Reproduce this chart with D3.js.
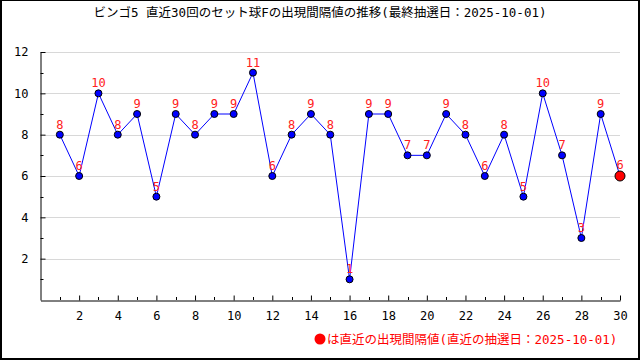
<!DOCTYPE html>
<html><head><meta charset="utf-8">
<script src="https://cdn.jsdelivr.net/npm/d3@7/dist/d3.min.js"></script>
<style>body{margin:0;background:#fff}svg{display:block}</style>
</head><body>
<svg id="c" width="640" height="360"></svg>
<script>
const title = "ビンゴ5 直近30回のセット球Fの出現間隔値の推移(最終抽選日：2025-10-01)";
const legendText = "は直近の出現間隔値(直近の抽選日：2025-10-01)";
const draws = d3.range(1, 31);
const intervals = [8,6,10,8,9,5,9,8,9,9,11,6,8,9,8,1,9,9,7,7,9,8,6,8,5,10,7,3,9,6];
const yMajorTicks = [2,4,6,8,10,12];
const yMinorTicks = [1,3,5,7,9,11];
const xMajorTicks = [2,4,6,8,10,12,14,16,18,20,22,24,26,28,30];
const xMinorTicks = [1,3,5,7,9,11,13,15,17,19,21,23,25,27,29];

const font = "'DejaVu Sans Mono', 'Noto Sans CJK JP', monospace";
const svg = d3.select("#c");
svg.append("rect").attr("x",0.5).attr("y",0.5).attr("width",638).attr("height",358)
  .attr("fill","#fff").attr("stroke","#000").attr("stroke-width",1);
svg.append("line").attr("x1",639).attr("x2",639).attr("y1",0).attr("y2",360).attr("stroke","#000").attr("stroke-width",2);
svg.append("line").attr("x1",0).attr("x2",640).attr("y1",359).attr("y2",359).attr("stroke","#000").attr("stroke-width",2);
svg.append("line").attr("x1",1).attr("x2",1).attr("y1",0).attr("y2",360).attr("stroke","#000").attr("stroke-width",2);

const x = d3.scaleLinear().domain([0,30]).range([40.5,620]);
const y = d3.scaleLinear().domain([0,12]).range([300,52]);

svg.append("text").attr("x",320).attr("y",17).attr("text-anchor","middle")
  .attr("font-family",font).attr("font-size",12.5).attr("fill","#000").text(title);

// grid
svg.append("g").selectAll("line").data(yMajorTicks).join("line")
  .attr("x1",x(0)+4).attr("x2",620).attr("y1",d=>Math.round(y(d))+0.5).attr("y2",d=>Math.round(y(d))+0.5)
  .attr("stroke","#d8d8d8").attr("stroke-width",1);

// y axis
const yAxis = svg.append("g").attr("transform",`translate(${x(0)},0)`)
  .call(d3.axisLeft(y).tickValues(yMajorTicks).tickSize(-5).tickPadding(12).tickSizeOuter(0));
yAxis.select(".domain").attr("stroke","#000");
yAxis.selectAll("text").attr("font-family",font).attr("font-size",12).attr("fill","#000");
svg.append("g").selectAll("line").data(yMinorTicks).join("line")
  .attr("x1",x(0)).attr("x2",x(0)+3).attr("y1",d=>Math.round(y(d))+0.5).attr("y2",d=>Math.round(y(d))+0.5)
  .attr("stroke","#000");

// x axis
const xAxis = svg.append("g").attr("transform",`translate(0,${y(0)+0.5})`)
  .call(d3.axisBottom(x).tickValues(xMajorTicks).tickSize(-5).tickPadding(11).tickSizeOuter(0));
xAxis.select(".domain").attr("stroke","#000");
xAxis.selectAll("text").attr("font-family",font).attr("font-size",12).attr("fill","#000");
svg.append("g").selectAll("line").data(xMinorTicks).join("line")
  .attr("x1",d=>Math.round(x(d))+0.5).attr("x2",d=>Math.round(x(d))+0.5).attr("y1",y(0)).attr("y2",y(0)-3)
  .attr("stroke","#000");

// line
const line = d3.line().x((d,i)=>x(draws[i])).y(d=>y(d));
svg.append("path").datum(intervals).attr("d",line).attr("fill","none").attr("stroke","#0000ff").attr("stroke-width",1);

// points
svg.append("g").selectAll("circle").data(intervals).join("circle")
  .attr("cx",(d,i)=>x(draws[i])).attr("cy",d=>y(d))
  .attr("r",(d,i)=>i===intervals.length-1?5:3.5)
  .attr("fill",(d,i)=>i===intervals.length-1?"#ff0000":"#0000ff")
  .attr("stroke","#000").attr("stroke-width",1);

// labels
svg.append("g").selectAll("text").data(intervals).join("text")
  .attr("x",(d,i)=>x(draws[i])).attr("y",(d,i)=>y(d)-(i===intervals.length-1?7:6))
  .attr("text-anchor","middle").attr("font-family",font).attr("font-size",12)
  .attr("fill","#ff2020").text(d=>d);

// legend
svg.append("circle").attr("cx",320).attr("cy",339).attr("r",5.5).attr("fill","#ff0000");
svg.append("text").attr("x",327).attr("y",344).attr("font-family",font).attr("font-size",12.5)
  .attr("fill","#ff0000").text(legendText);
</script>
</body></html>
